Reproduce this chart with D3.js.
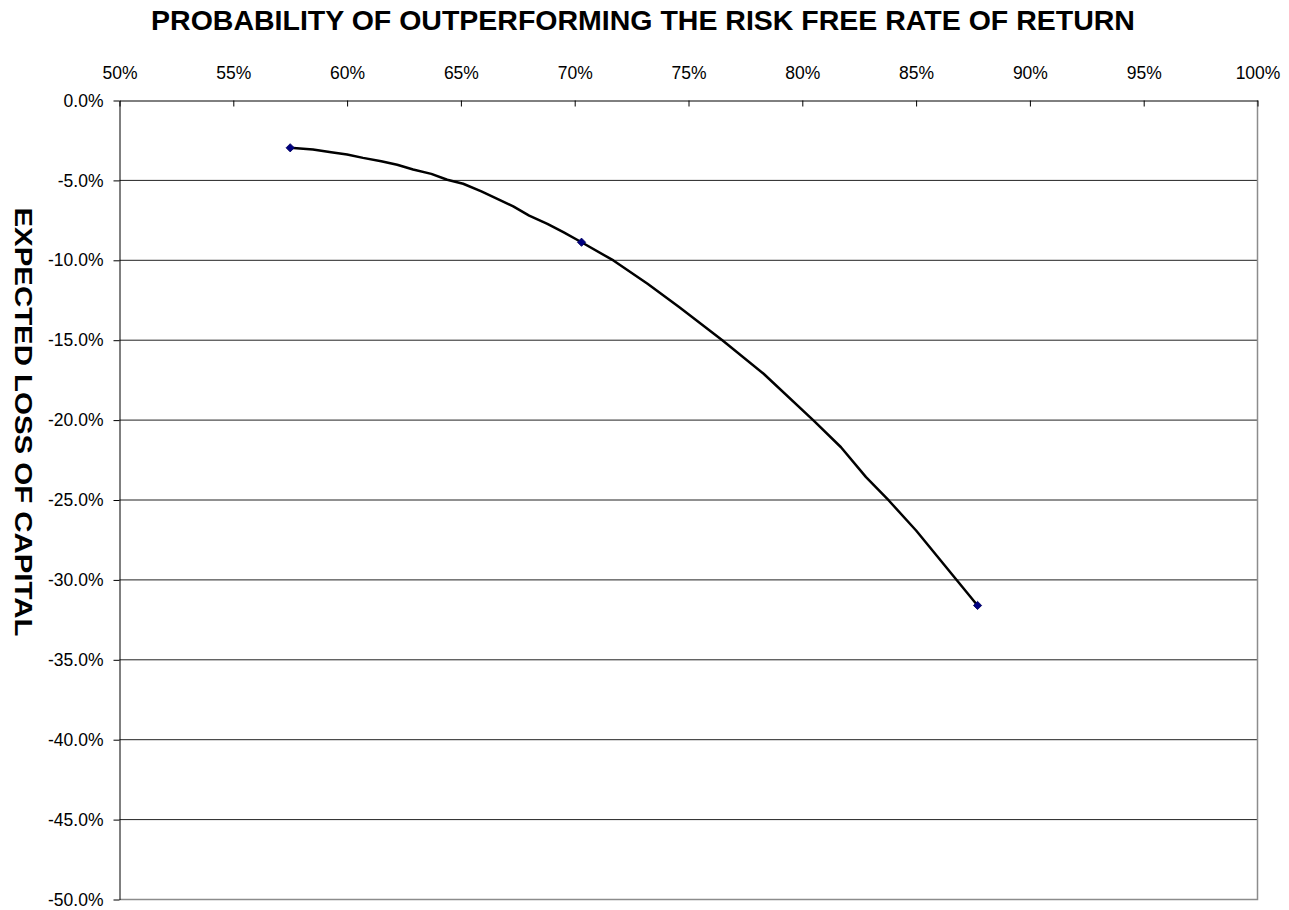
<!DOCTYPE html>
<html>
<head>
<meta charset="utf-8">
<script src="https://cdn.jsdelivr.net/npm/d3@7"></script>
<style>
  html, body { margin: 0; padding: 0; background: #fff; }
  svg { display: block; font-family: Arial, "Liberation Sans", sans-serif; }
</style>
</head>
<body>
<svg id="chart" width="1289" height="910"></svg>
<script>
// Probability of beating the risk-free rate (%) vs. expected loss of capital (%)
const probability = [57.5, 58.5, 59.3, 60.0, 60.7, 61.5, 62.2, 62.9, 63.7, 64.4,
  65.1, 65.9, 66.6, 67.3, 68.0, 68.8, 69.5, 70.3, 71.7, 73.2,
  74.6, 76.5, 78.3, 80.5, 81.7, 82.8, 83.8, 85.0, 86.8, 87.7];
const expectedLoss = [-2.96, -3.07, -3.24, -3.38, -3.59, -3.80, -4.02, -4.32, -4.59, -4.96,
  -5.21, -5.69, -6.15, -6.63, -7.20, -7.72, -8.24, -8.87, -10.01, -11.47,
  -12.94, -15.02, -17.10, -20.03, -21.70, -23.57, -25.03, -26.91, -30.04, -31.60];
// Points highlighted with a marker
const markerIndex = [0, 17, 29];

const xTicks = [50, 55, 60, 65, 70, 75, 80, 85, 90, 95, 100];
const yTicks = [0, -5, -10, -15, -20, -25, -30, -35, -40, -45, -50];

const titleText = "PROBABILITY OF OUTPERFORMING THE RISK FREE RATE OF RETURN";
const yTitleText = "EXPECTED LOSS OF CAPITAL";

const svg = d3.select("#chart");
const plot = { left: 119.5, right: 1257.5, top: 100.5, bottom: 899.5 };

const x = d3.scaleLinear().domain([50, 100]).range([plot.left, plot.right]);
const y = d3.scaleLinear().domain([0, -50]).range([plot.top, plot.bottom]);

// Horizontal gridlines
svg.append("g")
  .selectAll("line")
  .data(yTicks.filter(d => d !== 0 && d !== -50))
  .join("line")
  .attr("x1", plot.left).attr("x2", plot.right)
  .attr("y1", d => y(d)).attr("y2", d => y(d))
  .attr("stroke", "#222").attr("stroke-width", 1);

// Plot-area border (right and bottom)
svg.append("path")
  .attr("d", `M${plot.right},${plot.top}V${plot.bottom}H${plot.left}`)
  .attr("fill", "none").attr("stroke", "#8c8c8c").attr("stroke-width", 1.5);

// Top axis with ticks pointing into the plot
const xAxis = svg.append("g")
  .attr("transform", `translate(0,${plot.top})`)
  .call(d3.axisTop(x).tickValues(xTicks).tickSize(-6).tickSizeOuter(0).tickPadding(22)
    .tickFormat(d => d + "%"));
xAxis.select(".domain").attr("stroke", "#000");
xAxis.selectAll(".tick line").attr("stroke", "#000");
xAxis.selectAll("text").attr("font-size", 17.5).attr("fill", "#000")
  .attr("font-family", "Arial, 'Liberation Sans', sans-serif");

// Left axis
const yAxis = svg.append("g")
  .attr("transform", `translate(${plot.left},0)`)
  .call(d3.axisLeft(y).tickValues(yTicks).tickSize(6).tickSizeOuter(0).tickPadding(10)
    .tickFormat(d => d.toFixed(1) + "%"));
yAxis.select(".domain").attr("stroke", "#000");
yAxis.selectAll(".tick line").attr("stroke", "#000");
yAxis.selectAll("text").attr("font-size", 17.5).attr("fill", "#000")
  .attr("font-family", "Arial, 'Liberation Sans', sans-serif");

// Curve
const pts = probability.map((p, i) => [p, expectedLoss[i]]);
svg.append("path")
  .datum(pts)
  .attr("fill", "none")
  .attr("stroke", "#000")
  .attr("stroke-width", 2.5)
  .attr("stroke-linejoin", "round")
  .attr("d", d3.line().x(d => x(d[0])).y(d => y(d[1])));

// Diamond markers
const diamond = d3.symbol().type(d3.symbolSquare).size(34);
svg.append("g")
  .selectAll("path")
  .data(markerIndex.map(i => pts[i]))
  .join("path")
  .attr("d", diamond)
  .attr("transform", d => `translate(${x(d[0])},${y(d[1])}) rotate(45)`)
  .attr("fill", "#000080")
  .attr("stroke", "#000060").attr("stroke-width", 0.8);

// Titles
svg.append("text")
  .attr("x", 643).attr("y", 30)
  .attr("text-anchor", "middle")
  .attr("font-size", 28.5).attr("font-weight", "bold")
  .text(titleText);

svg.append("text")
  .attr("transform", `translate(15,${422}) rotate(90)`)
  .attr("text-anchor", "middle")
  .attr("font-size", 24.5).attr("font-weight", "bold")
  .attr("textLength", 429).attr("lengthAdjust", "spacingAndGlyphs")
  .text(yTitleText);
</script>
</body>
</html>
